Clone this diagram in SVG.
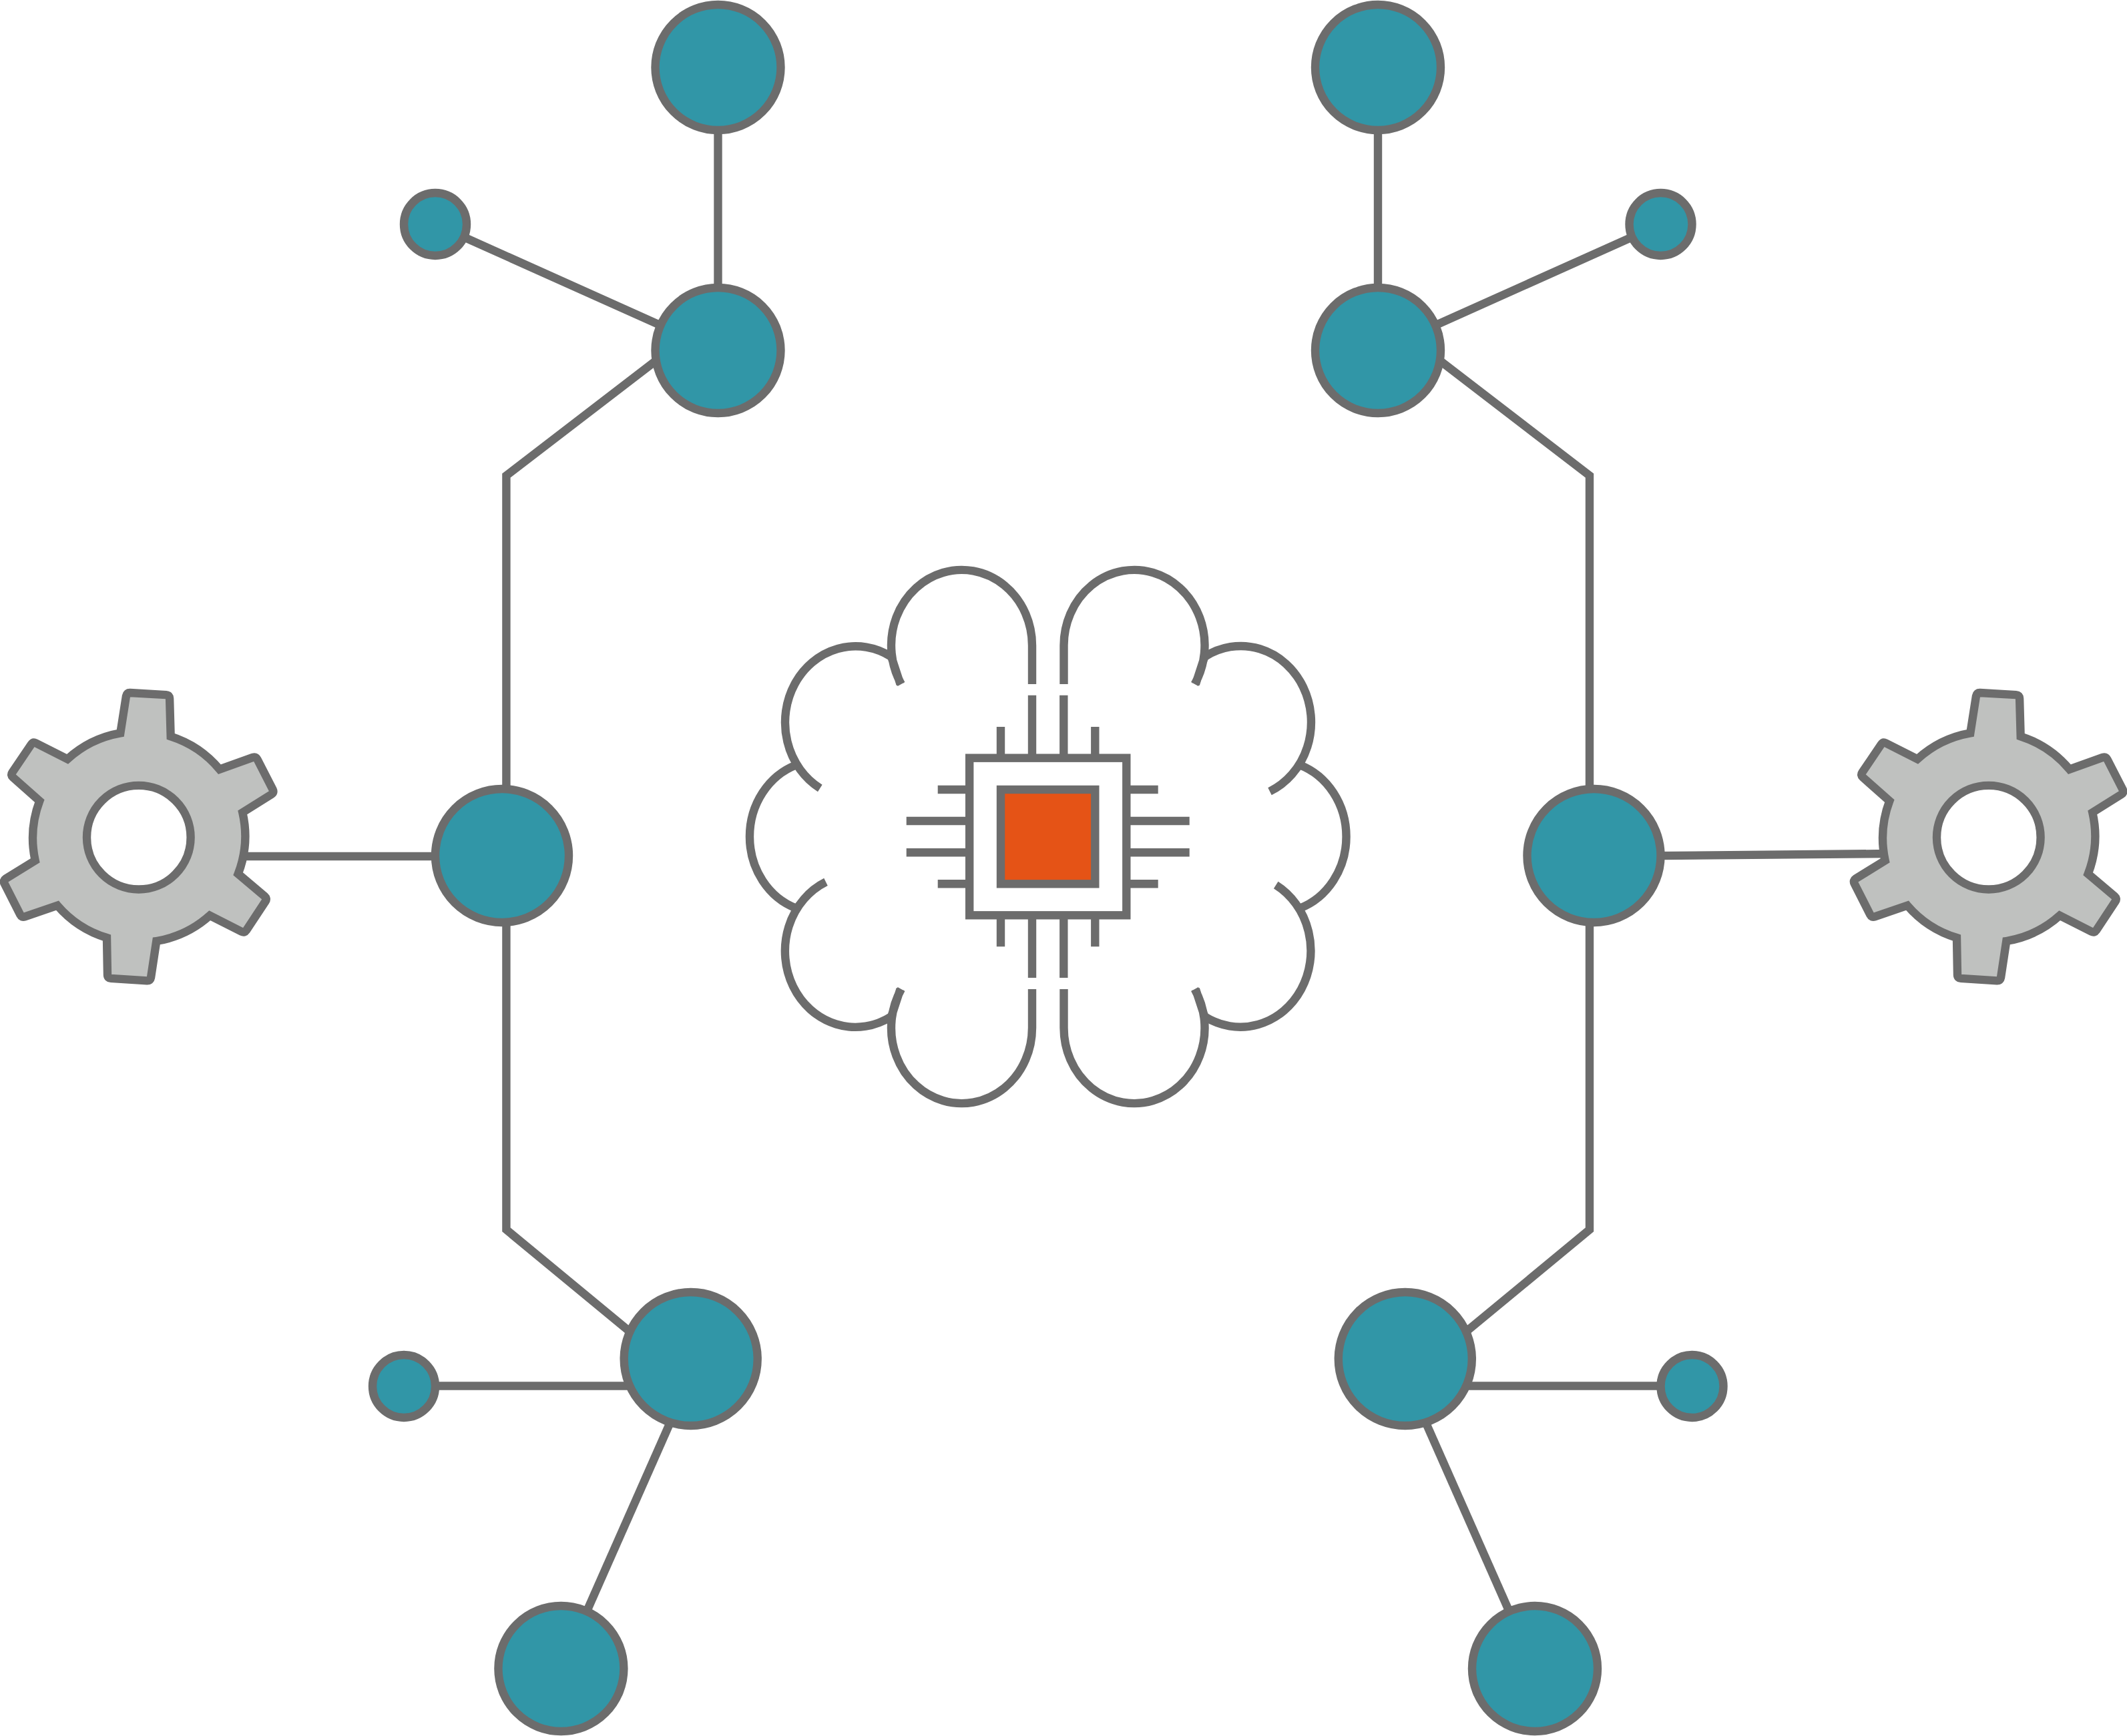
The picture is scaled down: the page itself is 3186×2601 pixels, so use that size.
<svg xmlns="http://www.w3.org/2000/svg" width="3186" height="2601" viewBox="0 0 3186 2601">
<style>
.ln{fill:none;stroke:#6c6c6c;stroke-width:12.4;stroke-miterlimit:10}
.nd{fill:#3196a7;stroke:#6c6c6c;stroke-width:12.4}
.gear{fill:#bfc1bf;stroke:#6c6c6c;stroke-width:12.4;stroke-miterlimit:10}
.hole{fill:#fff;stroke:#6c6c6c;stroke-width:12.4}
</style>
<defs>
<g id="gear-shape">
<path class="gear" d="M180.3,1098.3L189,1042.6Q189.8,1037.7 194.8,1038L248.9,1041.1Q253.9,1041.4 254.1,1046.4L255.7,1103.3A158,158 0 0 1 329,1152.7L378.5,1134.9Q383.2,1133.3 385.5,1137.8L408.6,1182.9Q410.9,1187.4 406.7,1190.1L363.3,1217.3A158,158 0 0 1 356.7,1309.3L396.6,1343Q400.4,1346.3 397.6,1350.5L369,1393.8Q366.2,1398 361.7,1395.8L314.3,1371.7A158,158 0 0 1 234.3,1410L226,1464.8Q225.2,1469.7 220.2,1469.4L166.1,1465.9Q161.1,1465.6 161,1460.6L160,1405A158,158 0 0 1 86,1356.7L37.3,1373.4Q32.5,1375 30.3,1370.5L6.6,1323.7Q4.4,1319.2 8.6,1316.5L52.7,1289.3A158,158 0 0 1 59.3,1200L19.3,1164.7Q15.6,1161.4 18.4,1157.3L46.7,1115.4Q49.5,1111.3 54,1113.5L101,1137.3A158,158 0 0 1 180.3,1098.3Z"/>
<circle class="hole" cx="207.8" cy="1254.7" r="77.8"/>
</g>
</defs>
<g id="connectors">
<path class="ln" d="M1075.5,101V525"/>
<path class="ln" d="M652,336L1075.5,526"/>
<path class="ln" d="M1000,527L758.4,712.6V1842.4L1034,2070"/>
<path class="ln" d="M340,1283H752"/>
<path class="ln" d="M605,2076.5H1034"/>
<path class="ln" d="M1046,2036L860,2457"/>
<path class="ln" d="M2064,101V525"/>
<path class="ln" d="M2487.5,336L2064,526"/>
<path class="ln" d="M2139.5,527L2381,712.6V1842.4L2105.5,2070"/>
<path class="ln" d="M2388,1283L2830,1279"/>
<path class="ln" d="M2534.5,2076.5H2105"/>
<path class="ln" d="M2093.5,2036L2279.5,2457"/>
</g>
<g id="node-top-left-a"><circle class="nd" cx="1075.5" cy="101" r="94"/></g>
<g id="node-top-left-b"><circle class="nd" cx="1075.5" cy="525" r="94"/></g>
<g id="node-top-left-small"><circle class="nd" cx="652" cy="336" r="47"/></g>
<g id="node-mid-left"><circle class="nd" cx="752" cy="1282" r="100"/></g>
<g id="node-bottom-left-a"><circle class="nd" cx="1034.7" cy="2036" r="100"/></g>
<g id="node-bottom-left-small"><circle class="nd" cx="605" cy="2077" r="47"/></g>
<g id="node-bottom-left-b"><circle class="nd" cx="840.4" cy="2500" r="94"/></g>
<g id="node-top-right-a"><circle class="nd" cx="2064" cy="101" r="94"/></g>
<g id="node-top-right-b"><circle class="nd" cx="2064" cy="525" r="94"/></g>
<g id="node-top-right-small"><circle class="nd" cx="2487.5" cy="336" r="47"/></g>
<g id="node-mid-right"><circle class="nd" cx="2387.5" cy="1282" r="100"/></g>
<g id="node-bottom-right-a"><circle class="nd" cx="2104.8" cy="2036" r="100"/></g>
<g id="node-bottom-right-small"><circle class="nd" cx="2534.5" cy="2077" r="47"/></g>
<g id="node-bottom-right-b"><circle class="nd" cx="2299" cy="2500" r="94"/></g>
<g id="gear-left"><use href="#gear-shape"/></g>
<g id="gear-right"><use href="#gear-shape" transform="translate(2771 0)"/></g>
<g id="brain">
<path class="ln" d="M1546,1025V967A105.5,113 0 1 0 1350,1025M1335.5,985L1348.6,1025"/>
<path class="ln" d="M1593.5,1025V967A105.5,113 0 1 1 1789.5,1025M1804,985L1790.9,1025"/>
<path class="ln" d="M1546,1482V1540A105.5,113 0 1 1 1350,1482M1335.5,1522L1348.6,1482"/>
<path class="ln" d="M1593.5,1482V1540A105.5,113 0 1 0 1789.5,1482M1804,1522L1790.9,1482"/>
<path class="ln" d="M1335,984A105.5,114 0 1 0 1228.3,1180.9"/>
<path class="ln" d="M1804.5,984A105.5,114 0 1 1 1902,1185.8"/>
<path class="ln" d="M1335,1523A105.5,114 0 1 1 1237,1321.4"/>
<path class="ln" d="M1804.5,1523A105.5,114 0 1 0 1911.2,1326.1"/>
<path class="ln" d="M1193,1146A105,114 0 0 0 1193,1361"/>
<path class="ln" d="M1946.5,1146A105,114 0 0 1 1946.5,1361"/>
</g>
<g id="chip">
<path class="ln" d="M1499,1089V1135.7M1546,1041.7V1135.7M1593.3,1041.7V1135.7M1640.3,1089V1135.7M1499,1371.3V1418.3M1546,1371.3V1465M1593.3,1371.3V1465M1640.3,1371.3V1418.3M1404.7,1183H1452.2M1357.7,1230H1452.2M1357.7,1277.3H1452.2M1404.7,1324.3H1452.2M1687.3,1183H1734.7M1687.3,1230H1781.7M1687.3,1277.3H1781.7M1687.3,1324.3H1734.7"/>
<rect class="ln" x="1452.2" y="1135.7" width="235.1" height="235.6"/>
<rect x="1499" y="1183" width="141.3" height="141.3" fill="#e55316" stroke="#6c6c6c" stroke-width="12.4"/>
</g>
</svg>
